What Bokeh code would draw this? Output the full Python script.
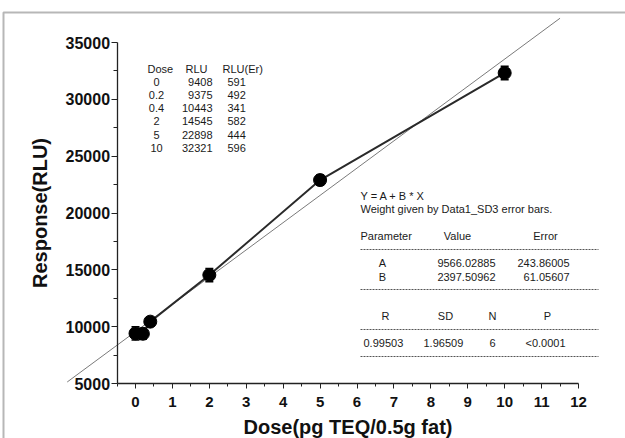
from bokeh.plotting import figure
from bokeh.models import (Range1d, FixedTicker, Label, Arrow, Whisker, ColumnDataSource,
                          BoxAnnotation, TeeHead)
from bokeh.embed import file_html
from bokeh.resources import INLINE

# ---------------- data ----------------
dose = [0, 0.2, 0.4, 2, 5, 10]
dose_labels = ["0", "0.2", "0.4", "2", "5", "10"]
rlu = [9408, 9375, 10443, 14545, 22898, 32321]
rlu_err = [591, 492, 341, 582, 444, 596]

fit_A, fit_A_err = 9566.02885, 243.86005
fit_B, fit_B_err = 2397.50962, 61.05607
fit_R, fit_SD, fit_N, fit_P = 0.99503, 1.96509, 6, "<0.0001"
fit_x_span = [-1.85, 11.5]

x_ticks = list(range(0, 13))
x_minor = [i + 0.5 for i in range(-1, 12)]
y_ticks = [5000, 10000, 15000, 20000, 25000, 30000, 35000]
y_minor = [7500, 12500, 17500, 22500, 27500, 32500]

x_title = "Dose(pg TEQ/0.5g fat)"
y_title = "Response(RLU)"

# ---------------- layout ----------------
W, H = 625, 438
AX_X0_PX, UNIT_X_PX = 135.0, 36.917      # pixel of dose 0, pixels per dose unit
AX_Y0_PX, UNIT_Y_PX = 383.0, 56.83 / 5000  # pixel of 5000 RLU, pixels per RLU
FONT = "Liberation Sans"

x_range = Range1d(-AX_X0_PX / UNIT_X_PX, (W - AX_X0_PX) / UNIT_X_PX)
y_range = Range1d(5000 - (H - AX_Y0_PX) / UNIT_Y_PX, 5000 + AX_Y0_PX / UNIT_Y_PX)

p = figure(width=W, height=H, x_range=x_range, y_range=y_range,
           output_backend="svg", toolbar_location=None, min_border=0)
p.grid.visible = False
p.outline_line_color = None
p.background_fill_color = "white"
p.border_fill_color = "white"

# axes at fixed data locations
xa = p.xaxis[0]
xa.fixed_location = y_ticks[0]
xa.bounds = (x_minor[0], x_ticks[-1])
xa.ticker = FixedTicker(ticks=x_ticks, minor_ticks=x_minor)
xa.axis_label = x_title
xa.axis_label_text_font = FONT
xa.axis_label_text_font_style = "bold"
xa.axis_label_text_font_size = "20px"
xa.axis_label_text_color = "#111111"
xa.axis_label_standoff = 6
xa.major_label_text_font = FONT
xa.major_label_text_font_style = "bold"
xa.major_label_text_font_size = "15px"
xa.major_label_text_color = "#111111"
xa.major_label_standoff = 8
xa.major_tick_in = 0
xa.major_tick_out = 5
xa.minor_tick_in = 0
xa.minor_tick_out = 3
xa.axis_line_color = "#222222"
xa.major_tick_line_color = "#222222"
xa.minor_tick_line_color = "#222222"
xa.axis_line_width = 1.3

ya = p.yaxis[0]
ya.fixed_location = x_minor[0]
ya.bounds = (y_ticks[0], y_ticks[-1])
ya.ticker = FixedTicker(ticks=y_ticks, minor_ticks=y_minor)
ya.axis_label = y_title
ya.axis_label_text_font = FONT
ya.axis_label_text_font_style = "bold"
ya.axis_label_text_font_size = "20px"
ya.axis_label_text_color = "#111111"
ya.axis_label_standoff = 12
ya.major_label_text_font = FONT
ya.major_label_text_font_style = "bold"
ya.major_label_text_font_size = "16px"
ya.major_label_text_color = "#111111"
ya.major_label_standoff = 1
ya.major_tick_in = 0
ya.major_tick_out = 6
ya.minor_tick_in = 0
ya.minor_tick_out = 4
ya.axis_line_color = "#222222"
ya.major_tick_line_color = "#222222"
ya.minor_tick_line_color = "#222222"
ya.axis_line_width = 1.3

# scan frame (top and left edges)
p.add_layout(BoxAnnotation(left=3, right=W + 20, top=H - 12, bottom=-20,
                           left_units="screen", right_units="screen",
                           top_units="screen", bottom_units="screen",
                           fill_alpha=0, line_color="#111111", line_width=2))

# fit line
fit_y = [fit_A + fit_B * x for x in fit_x_span]
p.line(fit_x_span, fit_y, line_color="#7a7a7a", line_width=1)

# data
src = ColumnDataSource(dict(x=dose, y=rlu,
                            lo=[v - e for v, e in zip(rlu, rlu_err)],
                            hi=[v + e for v, e in zip(rlu, rlu_err)]))
p.line("x", "y", source=src, line_color="#2a2a2a", line_width=2)
p.add_layout(Whisker(source=src, base="x", lower="lo", upper="hi",
                     line_color="black", line_width=1.5,
                     upper_head=TeeHead(size=8, line_color="black", line_width=1.5),
                     lower_head=TeeHead(size=8, line_color="black", line_width=1.5)))
p.scatter("x", "y", source=src, size=13, fill_color="black", line_color="black")


def lab(text, px, py, align="left", size="11px"):
    p.add_layout(Label(x=px, y=H - py, x_units="screen", y_units="screen", text=text,
                       text_font=FONT, text_font_size=size, text_color="#1a1a1a",
                       text_align=align, text_baseline="middle"))


def dash(px0, px1, py):
    p.add_layout(Arrow(end=None, x_start=px0, y_start=H - py, x_end=px1, y_end=H - py,
                       start_units="screen", end_units="screen",
                       line_color="#555555", line_width=1, line_dash="2 1"))


# data table (top-left)
lab("Dose", 147, 68)
lab("RLU", 185, 68)
lab("RLU(Er)", 222, 68)
for i, (d, r, e) in enumerate(zip(dose_labels, rlu, rlu_err)):
    yy = 81 + i * 13.3
    lab(d, 156, yy, "center")
    lab(str(r), 212, yy, "right")
    lab(str(e), 227, yy, "left")

# regression statistics
lab("Y = A + B * X", 360, 195)
lab("Weight given by Data1_SD3 error bars.", 360, 208)
lab("Parameter", 360, 235)
lab("Value", 457, 235, "center")
lab("Error", 545, 235, "center")
dash(360, 598, 249)
lab("A", 382, 262, "center")
lab("B", 382, 276, "center")
lab(f"{fit_A:.5f}", 495, 262, "right")
lab(f"{fit_B:.5f}", 495, 276, "right")
lab(f"{fit_A_err:.5f}", 569, 262, "right")
lab(f"{fit_B_err:.5f}", 569, 276, "right")
dash(360, 598, 289)
lab("R", 385, 315, "center")
lab("SD", 445, 315, "center")
lab("N", 492, 315, "center")
lab("P", 547, 315, "center")
dash(360, 598, 329)
lab(f"{fit_R:.5f}", 363, 342)
lab(f"{fit_SD:.5f}", 423, 342)
lab(str(fit_N), 492, 342, "center")
lab(fit_P, 545, 342, "center")
dash(360, 598, 356)

open("out.html", "w").write(file_html(p, INLINE))
